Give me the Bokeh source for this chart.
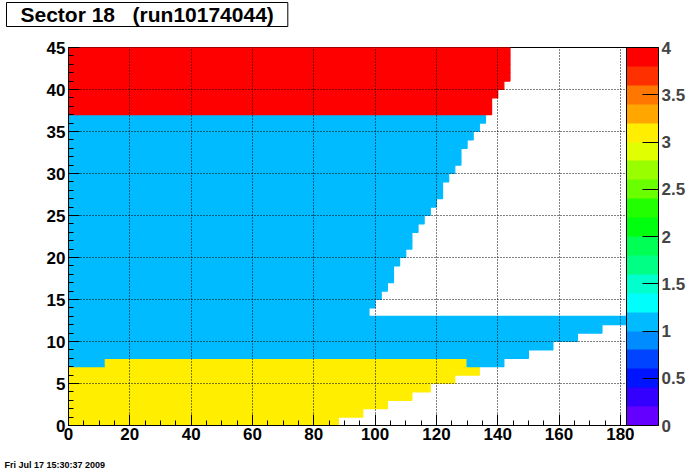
from bokeh.plotting import figure
from bokeh.models import (ColumnDataSource, LinearColorMapper, ColorBar, SingleIntervalTicker,
                          CustomJSTickFormatter, Title, Range1d)
from bokeh.transform import transform
from bokeh.embed import file_html
from bokeh.resources import INLINE

# ---- data: pads per pad-row (row 0 .. 44) and value of each row ----
pads_per_row = [88, 96, 104, 112, 118, 126, 134, 142, 150, 158, 166, 174, 182,
                98, 100, 102, 104, 106, 106, 108, 110, 112, 112, 114, 116, 118,
                120, 122, 122, 124, 126, 128, 128, 130, 132, 134, 136, 138, 138,
                140, 142, 144, 144, 144, 144]
row_value = [3, 3, 3, 3, 3, 3, 3, 3,
             1, 1, 1, 1, 1, 1, 1, 1, 1, 1, 1, 1, 1, 1, 1, 1, 1, 1, 1, 1, 1, 1,
             1, 1, 1, 1, 1, 1, 1,
             4, 4, 4, 4, 4, 4, 4, 4]
# exceptions inside a row: (row, first pad, last pad, value)
overrides = [(7, 0, 12, 1), (7, 130, 142, 1)]

x_ticks_interval = 20
y_ticks_interval = 5
palette = ["#6300FF", "#3300FF", "#0014FF", "#0044FF", "#008BFF", "#00BBFF",
           "#00FFFC", "#00FFCC", "#00FF85", "#00FF55", "#00FF0E", "#22FF00",
           "#69FF00", "#99FF00", "#E0FF00", "#FFEE00", "#FFA700", "#FF7700",
           "#FF3000", "#FF0000"]
z_low, z_high = 0, 4

# ---- build cell segments ----
left, right, bottom, top, val = [], [], [], [], []
for r, (n, v) in enumerate(zip(pads_per_row, row_value)):
    cuts = sorted([(a, b, w) for (rr, a, b, w) in overrides if rr == r])
    pos = 0
    segs = []
    for a, b, w in cuts:
        if a > pos:
            segs.append((pos, a, v))
        segs.append((a, b, w))
        pos = b
    if pos < n:
        segs.append((pos, n, v))
    for a, b, w in segs:
        left.append(a); right.append(b); bottom.append(r); top.append(r + 1); val.append(w)

src = ColumnDataSource(dict(left=left, right=right, bottom=bottom, top=top, v=val))
mapper = LinearColorMapper(palette=palette, low=z_low, high=z_high)

FONT = "Liberation Sans"

p = figure(frame_width=558, frame_height=378, output_backend="svg", toolbar_location=None,
           x_range=Range1d(0, 182), y_range=Range1d(0, 45),
           min_border_left=68, min_border_top=47, min_border_bottom=47, min_border_right=70)
p.background_fill_color = "white"
p.border_fill_color = "white"
p.outline_line_color = "black"
p.outline_line_width = 1

p.quad(left="left", right="right", bottom="bottom", top="top", source=src,
       fill_color=transform("v", mapper), line_color=transform("v", mapper), line_width=1.2)

p.xaxis.ticker = SingleIntervalTicker(interval=x_ticks_interval, num_minor_ticks=4)
p.yaxis.ticker = SingleIntervalTicker(interval=y_ticks_interval, num_minor_ticks=5)
for ax in (p.xaxis[0], p.yaxis[0]):
    ax.axis_line_color = "black"
    ax.major_tick_line_color = "black"
    ax.minor_tick_line_color = "black"
    ax.major_tick_out = 0
    ax.minor_tick_out = 0
    ax.major_tick_in = 11
    ax.minor_tick_in = 5
    ax.major_label_text_font = FONT
    ax.major_label_text_font_style = "bold"
    ax.major_label_text_font_size = "17px"
    ax.major_label_text_color = "black"
p.xaxis.major_label_standoff = 2
p.yaxis.major_label_standoff = 3

for g in (p.xgrid[0], p.ygrid[0]):
    g.grid_line_color = "black"
    g.grid_line_dash = "1 2"
    g.grid_line_width = 1
    g.level = "overlay"

cb = ColorBar(color_mapper=mapper,
              ticker=SingleIntervalTicker(interval=0.5, num_minor_ticks=0),
              formatter=CustomJSTickFormatter(code="return String(Number(tick.toFixed(2)))"),
              width=32, height=378, padding=0, margin=5,
              major_tick_in=16, major_tick_out=0, major_tick_line_color="black",
              minor_tick_line_color=None, bar_line_color="black",
              label_standoff=3, major_label_text_font=FONT,
              major_label_text_font_style="bold", major_label_text_font_size="17px",
              background_fill_color=None, border_line_color=None)
p.add_layout(cb, "right")

# spacer between frame and title box
p.add_layout(Title(text="\u00a0", text_font_size="12px", standoff=5), "above")
p.title = Title(text="Sector 18\u00a0\u00a0\u00a0(run10174044)", align="left", offset=-62,
                text_font=FONT, text_font_style="bold", text_font_size="21px",
                text_color="black", background_fill_color="white",
                border_line_color="black", border_line_width=1, standoff=0,
                padding=dict(left=14, right=14, top=0, bottom=1))

# spacer between x axis and date stamp
p.add_layout(Title(text="\u00a0", text_font_size="9px", standoff=3), "below")
date = Title(text="Fri Jul 17 15:30:37 2009", align="left", offset=-64,
             text_font=FONT, text_font_style="bold", text_font_size="9px",
             text_color="black", standoff=0)
p.add_layout(date, "below")

open("out.html", "w").write(file_html(p, INLINE))
